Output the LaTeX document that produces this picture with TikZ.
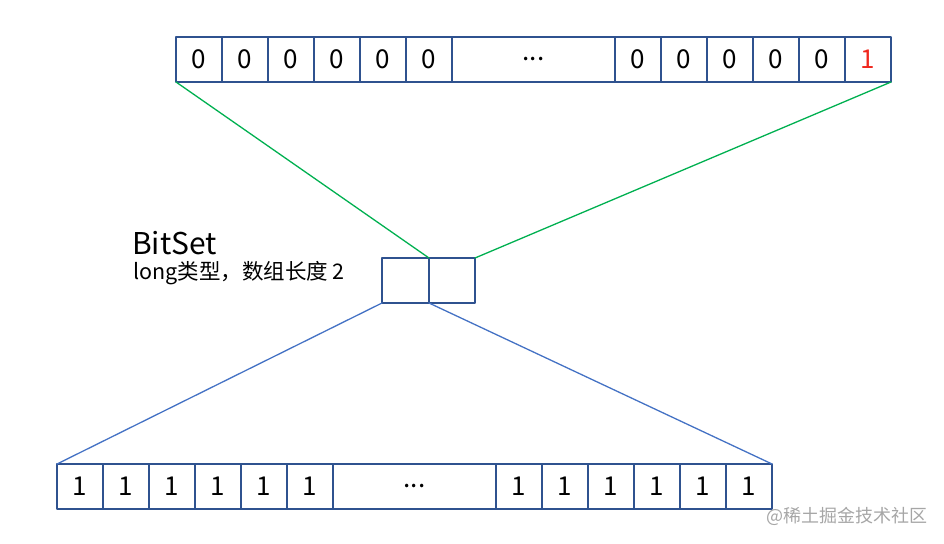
\documentclass[tikz,border=0pt]{standalone}
\usepackage{fontspec}
\setmainfont{Noto Sans CJK SC}
\usetikzlibrary{positioning}
\definecolor{boxblue}{HTML}{2F528F}
\definecolor{linegreen}{HTML}{00B050}
\definecolor{lineblue}{HTML}{4472C4}
\definecolor{bitred}{HTML}{F0281E}
\begin{document}
\begin{tikzpicture}[x=1pt, y=-1pt, line join=round, line cap=round,
	cell/.style={draw=boxblue, line width=1.8pt, minimum width=46pt, minimum height=45pt,
		inner sep=0pt, outer sep=0pt, anchor=north west, font=\fontsize{26}{26}\selectfont},
	wide/.style={cell, minimum width=163pt},
	greenline/.style={linegreen, line width=1.3pt},
	blueline/.style={lineblue, line width=1.3pt}]
	\useasboundingbox (0,0) rectangle (944,543);
	% top row: the long word
	\node[cell] (t1) at (176,37) {0};
	\foreach \i [remember=\i as \j (initially 1)] in {2,...,6}
	\node[cell, right=0pt of t\j] (t\i) {0};
	\node[wide, right=0pt of t6] (tdots) {...};
	\node[cell, right=0pt of tdots] (t7) {0};
	\foreach \i [remember=\i as \j (initially 7)] in {8,...,11}
	\node[cell, right=0pt of t\j] (t\i) {0};
	\node[cell, right=0pt of t11, text=bitred] (t12) {1};
	% middle: the BitSet array
	\node[cell, minimum width=47pt] (m1) at (382,258) {};
	\node[cell, right=0pt of m1] (m2) {};
	\node[anchor=base west, inner sep=0pt, font=\fontsize{30}{30}\selectfont] (title) at (132,254) {BitSet};
	\node[anchor=base west, inner sep=0pt, font=\fontsize{21.5}{21.5}\selectfont] (sub) at (133,279) {long类型，数组长度 2};
	% bottom row
	\node[cell] (b1) at (57,464) {1};
	\foreach \i [remember=\i as \j (initially 1)] in {2,...,6}
	\node[cell, right=0pt of b\j] (b\i) {1};
	\node[wide, right=0pt of b6] (bdots) {...};
	\node[cell, right=0pt of bdots] (b7) {1};
	\foreach \i [remember=\i as \j (initially 7)] in {8,...,12}
	\node[cell, right=0pt of b\j] (b\i) {1};
	% connectors
	\draw[greenline] (t1.south west) -- (m2.north west);
	\draw[greenline] (t12.south east) -- (m2.north east);
	\draw[blueline] (m1.south west) -- (b1.north west);
	\draw[blueline] (m2.south west) -- (b12.north east);
	\node[anchor=base west, inner sep=0pt, text=black!35, font=\fontsize{18}{18}\selectfont] (mark) at (766,522) {@稀土掘金技术社区};
\end{tikzpicture}
\end{document}
